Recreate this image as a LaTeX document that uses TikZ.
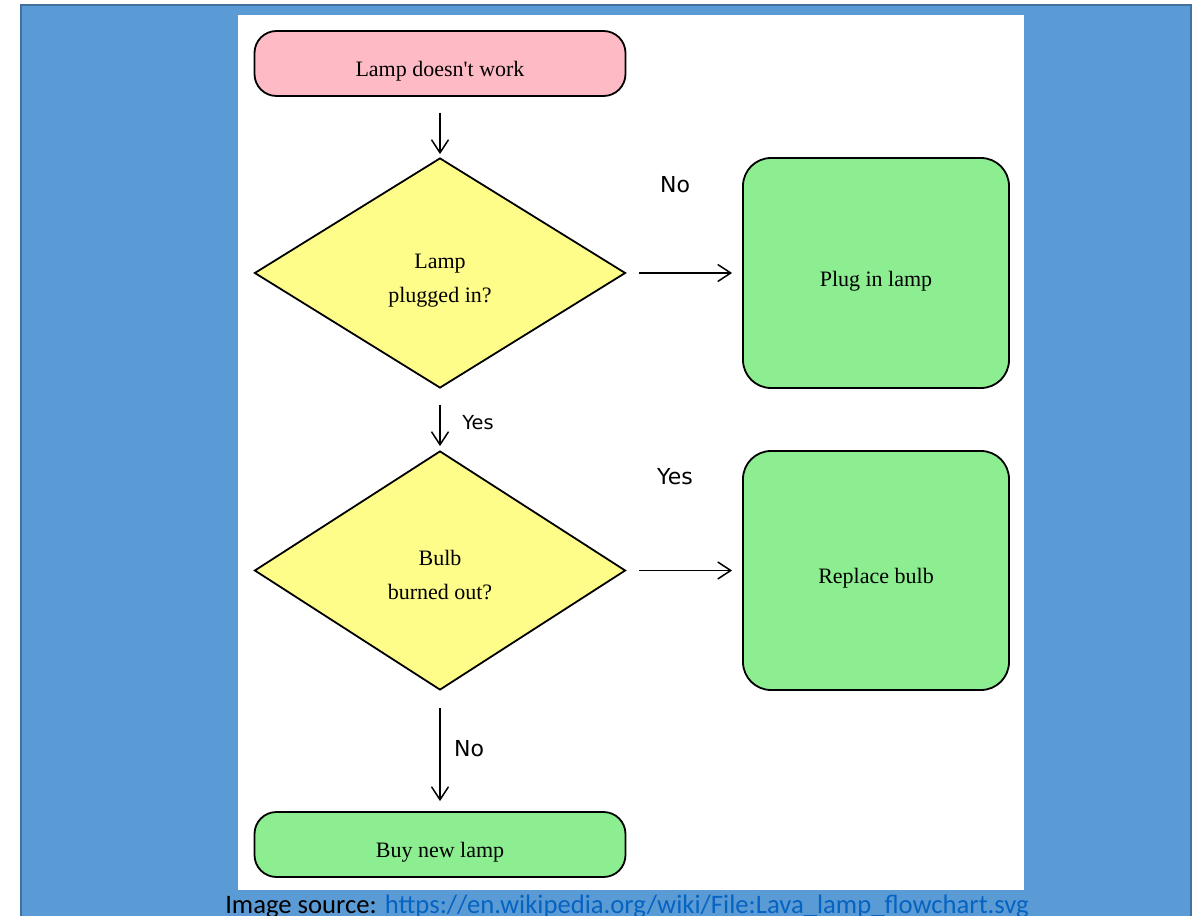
\documentclass[tikz,border=0pt]{standalone}
\usepackage{fontspec}
\setmainfont{Liberation Serif}
\newfontfamily\labelfont{DejaVu Sans}
\newfontfamily\captionfont{Carlito}
\usepackage{xcolor}
\usetikzlibrary{arrows.meta, positioning, shapes.geometric}
\definecolor{slideBlue} {RGB}{91,155,213}
\definecolor{slideEdge} {RGB}{65,113,156}
\definecolor{linkBlue}  {RGB}{5,99,193}
\definecolor{startPink} {RGB}{255,187,197}
\definecolor{askYellow} {RGB}{255,253,138}
\definecolor{doGreen}   {RGB}{140,238,144}
% node texts sit a little below the middle of their shapes
\newcommand{\boxtext}[1]{\raisebox{-6pt}[\height][\depth]{#1}}
\newcommand{\asktext}[1]{\raisebox{-4pt}[\height][\depth]{\begin{tabular}{@{}c@{}}#1\end{tabular}}}

\tikzset{
  termbox/.style={draw, line width=1.8*0.75pt, rounded corners=22*0.75pt,
    minimum width=371*0.75pt, minimum height=65*0.75pt,
    font=\fontsize{16.5}{20}\selectfont},
  askbox/.style={diamond, draw, fill=askYellow, line width=1.8*0.75pt, inner sep=0pt,
    minimum width=371*0.75pt, font=\fontsize{16.5}{25.5}\selectfont},
  actbox/.style={draw, fill=doGreen, line width=1.8*0.75pt, rounded corners=28*0.75pt,
    minimum width=266*0.75pt, font=\fontsize{16.5}{20}\selectfont},
  flow/.style={-{Straight Barb[length=13*0.75pt, width=17*0.75pt, line width=1.5*0.75pt]},
    line width=1.5*0.75pt},
  answer/.style={font=\labelfont\fontsize{16.5}{20}\selectfont},
}

\begin{document}
\begin{tikzpicture}[x=0.75pt, y=-0.75pt]
  \useasboundingbox (0,0) rectangle (1204,916);
  % slide background
  \draw[fill=slideBlue, draw=slideEdge, line width=2.5*0.75pt] (21,5) rectangle (1191,940);
  \fill[white] (238,15) rectangle (1024,890);

  % flowchart
  \node[termbox, fill=startPink] (start) at (440,63.5) {\boxtext{Lamp doesn\textquotesingle t work}};
  \node[askbox, minimum height=230*0.75pt] (plugged) at (440,273) {\asktext{Lamp\\plugged in?}};
  \node[actbox, minimum height=230*0.75pt] (pluglamp) at (876,273) {\boxtext{Plug in lamp}};
  \node[askbox, minimum height=239*0.75pt] (bulb) at (440,570.5) {\asktext{Bulb\\burned out?}};
  \node[actbox, minimum height=239*0.75pt] (replace) at (876,570.5) {\boxtext{Replace bulb}};
  \node[termbox, fill=doGreen] (buynew) at (440,844.5) {\boxtext{Buy new lamp}};

  \draw[flow, shorten <=16*0.75pt, shorten >=3*0.75pt] (start) -- (plugged);
  \draw[flow, shorten <=13*0.75pt, shorten >=10*0.75pt] (plugged) -- (pluglamp);
  \draw[flow, shorten <=16*0.75pt, shorten >=4*0.75pt] (plugged) -- (bulb);
  \draw[flow, shorten <=13*0.75pt, shorten >=10*0.75pt] (bulb) -- (replace);
  \draw[flow, shorten <=17*0.75pt, shorten >=10*0.75pt] (bulb) -- (buynew);

  \node[answer] (nolamp) at (675,185) {No};
  \node[answer, font=\labelfont\fontsize{14.5}{18}\selectfont] (yesplug) at (478,423) {Yes};
  \node[answer] (yesbulb) at (675,477) {Yes};
  \node[answer] (nobulb) at (469,749) {No};

  % caption
  \node[anchor=base west, inner sep=0pt, font=\captionfont\fontsize{20}{24}\selectfont] (source)
    at (225,913) {Image source: \textcolor{linkBlue}{https://en.wikipedia.org/wiki/File:Lava\_lamp\_flowchart.svg}};
\end{tikzpicture}
\end{document}
